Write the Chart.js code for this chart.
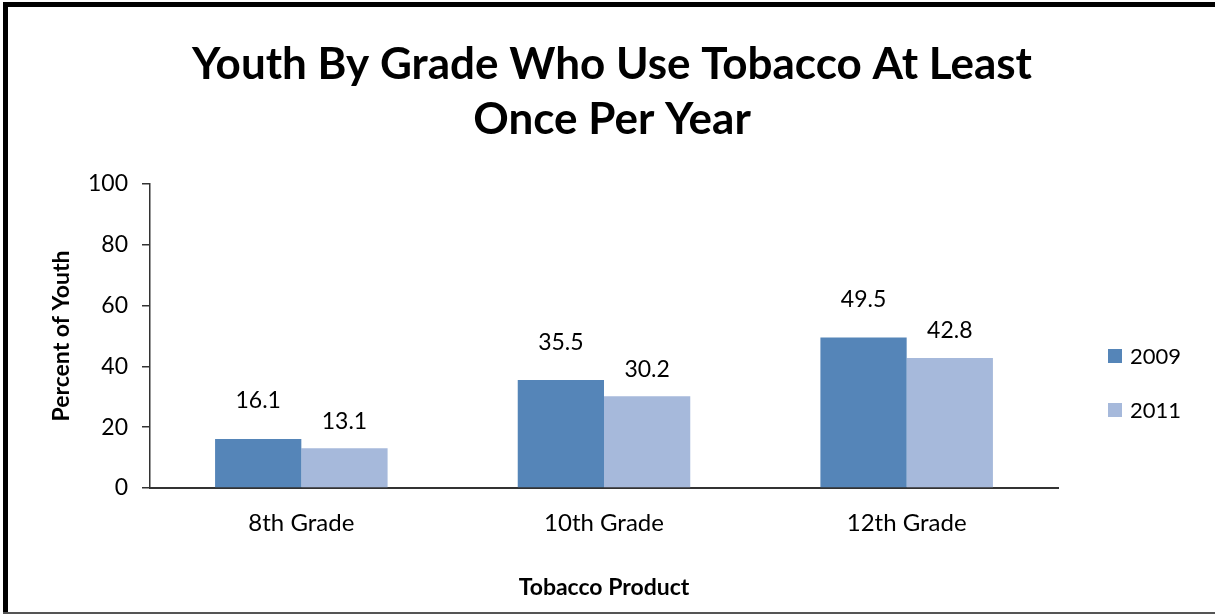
<!DOCTYPE html>
<html>
<head>
<meta charset="utf-8">
<script src="https://cdn.jsdelivr.net/npm/chart.js@4.4.0/dist/chart.umd.min.js"></script>
<style>
  html, body { margin: 0; padding: 0; background: #fff; }
  #wrap { width: 1215px; height: 615px; position: relative; }
</style>
</head>
<body>
<div id="wrap"><canvas id="grafica"></canvas></div>
<script>
// datos de la gráfica
const grados = ['8th Grade', '10th Grade', '12th Grade'];
const serie2009 = [16.1, 35.5, 49.5];
const serie2011 = [13.1, 30.2, 42.8];
const etiquetasSeries = ['2009', '2011'];
const ticksY = [0, 20, 40, 60, 80, 100];
const tituloLineas = ['Youth By Grade Who Use Tobacco At Least', 'Once Per Year'];

const fuente = 'Lato, "Open Sans", sans-serif';

// etiquetas encima de cada barra
const etiquetasDatos = {
    id: 'etiquetasDatos',
    afterDatasetsDraw(chart) {
        const ctx = chart.ctx;
        const subir = [38, 27]; // distancia sobre la barra por serie
        ctx.save();
        ctx.font = '23px ' + fuente;
        ctx.fillStyle = '#000';
        ctx.textAlign = 'center';
        ctx.textBaseline = 'middle';
        chart.data.datasets.forEach((ds, i) => {
            chart.getDatasetMeta(i).data.forEach((bar, j) => {
                ctx.fillText(ds.data[j].toFixed(1), bar.x, bar.y - subir[i]);
            });
        });
        ctx.restore();
    }
};

// titulo centrado en todo el lienzo, leyenda a la derecha y marco
const tituloLeyendaMarco = {
    id: 'tituloLeyendaMarco',
    beforeDraw(chart) {
        const ctx = chart.ctx;
        ctx.save();
        ctx.fillStyle = '#fff';
        ctx.fillRect(0, 0, chart.width, chart.height);
        ctx.restore();
    },
    afterDraw(chart) {
        const ctx = chart.ctx;
        ctx.save();
        // titulo
        ctx.font = 'bold 44px ' + fuente;
        ctx.fillStyle = '#000';
        ctx.textAlign = 'center';
        ctx.textBaseline = 'middle';
        tituloLineas.forEach((t, i) => ctx.fillText(t, 612, 65 + i * 55));

        // leyenda
        const ys = [356, 410];
        ctx.font = '22px ' + fuente;
        ctx.textAlign = 'left';
        chart.data.datasets.forEach((ds, i) => {
            ctx.fillStyle = ds.backgroundColor;
            ctx.fillRect(1108, ys[i] - 7, 14, 14);
            ctx.fillStyle = '#000';
            ctx.fillText(ds.label, 1130, ys[i] + 1);
        });

        // marco
        ctx.fillStyle = '#000';
        ctx.fillRect(3, 2, chart.width, 5);
        ctx.fillRect(3, 2, 5, 612);
        ctx.fillStyle = '#555';
        ctx.fillRect(3, 612, chart.width, 2);
        ctx.restore();
    }
};

new Chart(document.getElementById('grafica'), {
    type: 'bar',
    data: {
        labels: grados,
        datasets: [
            { label: etiquetasSeries[0], data: serie2009, backgroundColor: '#5585b8' },
            { label: etiquetasSeries[1], data: serie2011, backgroundColor: '#a6b9db' }
        ]
    },
    options: {
        responsive: true,
        maintainAspectRatio: false,
        animation: false,
        layout: { padding: { left: 0, right: 157, top: 184, bottom: 0 } },
        datasets: { bar: { categoryPercentage: 0.57, barPercentage: 1.0 } },
        plugins: {
            legend: { display: false },
            tooltip: { enabled: false },
            title: { display: false }
        },
        scales: {
            x: {
                afterFit: s => { s.height = 127; },
                grid: { display: false, drawTicks: false },
                border: { display: true, color: '#333', width: 2 },
                ticks: { color: '#000', font: { family: fuente, size: 24 }, padding: 21 },
                title: {
                    display: true,
                    text: 'Tobacco Product',
                    color: '#000',
                    font: { family: fuente, size: 23, weight: 'bold', lineHeight: 1.2 },
                    padding: { top: 10, bottom: 14 }
                }
            },
            y: {
                min: ticksY[0],
                max: ticksY[ticksY.length - 1],
                afterBuildTicks: s => { s.ticks = ticksY.map(v => ({ value: v })); },
                afterFit: s => { s.width = 150; },
                grid: { display: true, drawOnChartArea: false, drawTicks: true, tickLength: 8, color: '#333', lineWidth: 1.5 },
                border: { display: true, color: '#333', width: 1.5 },
                ticks: { color: '#000', font: { family: fuente, size: 23 }, padding: 14 },
                title: {
                    display: true,
                    text: 'Percent of Youth',
                    color: '#000',
                    font: { family: fuente, size: 23, weight: 'bold', lineHeight: 1.2 },
                    padding: { top: 48, bottom: 10 }
                }
            }
        }
    },
    plugins: [etiquetasDatos, tituloLeyendaMarco]
});
</script>
</body>
</html>
